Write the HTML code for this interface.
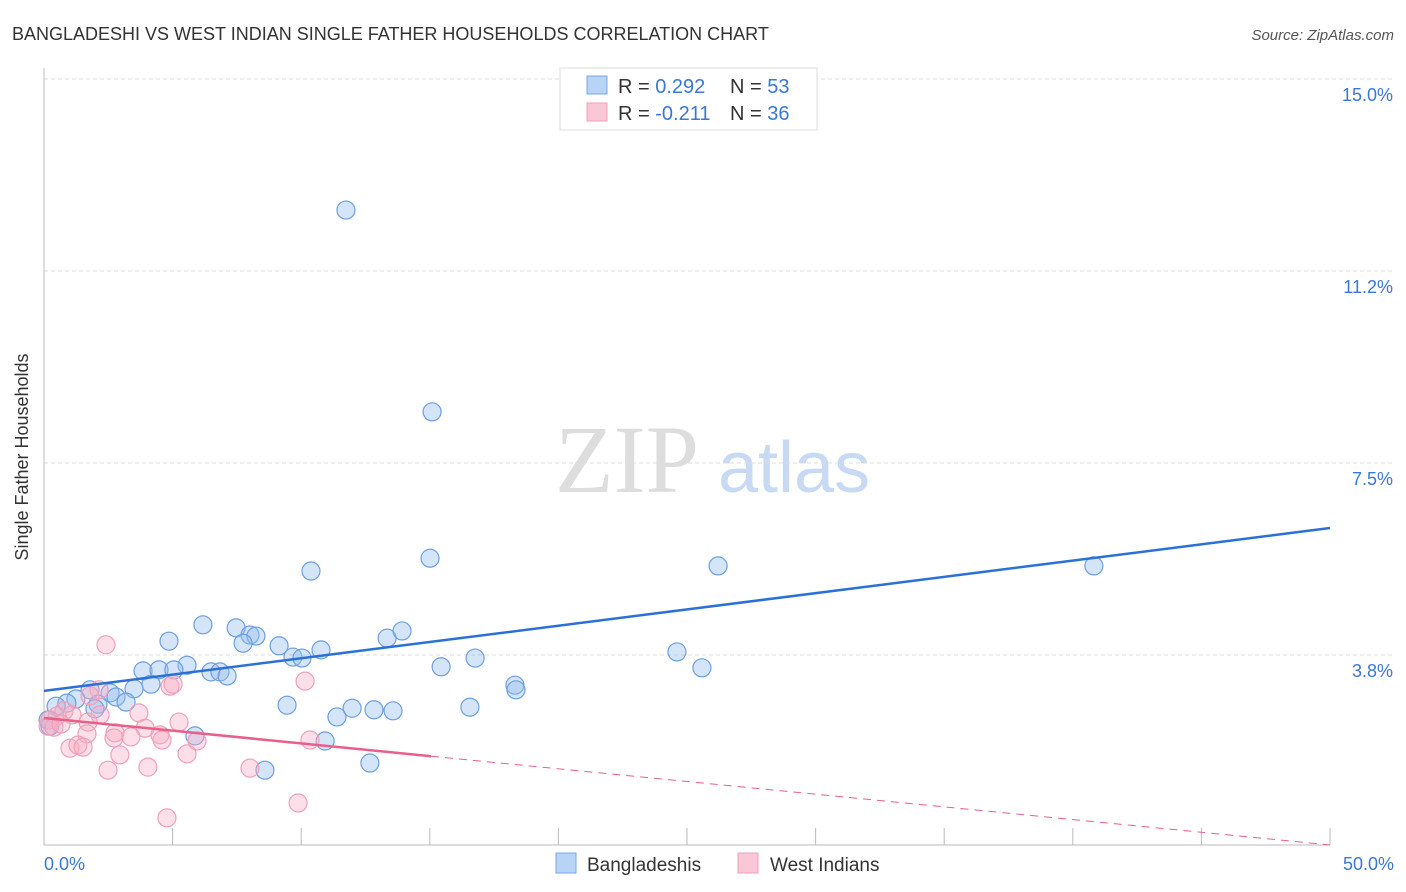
<!DOCTYPE html>
<html><head><meta charset="utf-8"><style>
body{margin:0;background:#fff;font-family:"Liberation Sans",sans-serif;}
svg{display:block}
</style></head><body>
<svg width="1406" height="892" id="chart">
<text x="12" y="40" font-size="18" fill="#333">BANGLADESHI VS WEST INDIAN SINGLE FATHER HOUSEHOLDS CORRELATION CHART</text>
<text x="1394" y="40" font-size="15" fill="#555" font-style="italic" text-anchor="end">Source: ZipAtlas.com</text>
<text x="555" y="492" font-size="96" font-family="Liberation Serif" fill="#ddd">ZIP</text>
<text x="718" y="492" font-size="72" fill="#c8daf3">atlas</text>
<g id="grid"></g>
<line x1="44" y1="68" x2="44" y2="845" stroke="#bbb"/>
<line x1="44" y1="845" x2="1330" y2="845" stroke="#bbb"/>
<text x="28" y="457" font-size="18" fill="#333" transform="rotate(-90 28 457)" text-anchor="middle">Single Father Households</text>
<text x="44" y="870" font-size="18" fill="#3a78d8">0.0%</text>
<text x="1394" y="870" font-size="18" fill="#3a78d8" text-anchor="end">50.0%</text>
<g id="points"></g>
<g>
<rect x="560" y="68" width="257" height="62" fill="#fff" stroke="#ddd"/>
<rect x="587" y="76" width="20" height="18" fill="#b8d3f5" stroke="#7aa8e6"/>
<rect x="587" y="103" width="20" height="18" fill="#f9c7d5" stroke="#f0a0b8"/>
<text x="618" y="93" font-size="20" fill="#333">R = <tspan fill="#3a78d8">0.292</tspan><tspan x="730">N = </tspan><tspan fill="#3a78d8">53</tspan></text>
<text x="618" y="120" font-size="20" fill="#333">R = <tspan fill="#3a78d8">-0.211</tspan><tspan x="730">N = </tspan><tspan fill="#3a78d8">36</tspan></text>
</g>
<g>
<rect x="556" y="853" width="20" height="20" fill="#b8d3f5" stroke="#7aa8e6"/>
<text x="587" y="871" font-size="19" fill="#333">Bangladeshis</text>
<rect x="738" y="853" width="20" height="20" fill="#f9c7d5" stroke="#f0a0b8"/>
<text x="770" y="871" font-size="19" fill="#333">West Indians</text>
</g>
</svg>
<script>
const yTicks=[3.75,7.5,11.25,15];
const yTickLabels=["3.8%","7.5%","11.2%","15.0%"];
const xTicks=[0,5,10,15,20,25,30,35,40,45,50];
const blueX=[11.74,15.09,15.01,10.38,26.21,40.82,6.18,7.47,8.01,8.24,4.86,7.74,9.14,10.77,13.34,13.92,9.68,10.03,16.76,24.61,15.44,25.58,5.56,3.85,4.47,5.05,6.49,6.84,7.12,4.16,3.50,1.79,2.57,2.80,3.19,1.24,0.89,0.47,2.10,1.98,9.45,11.98,12.83,13.57,11.39,16.56,18.31,18.35,5.87,10.93,12.67,8.59,0.16,0.23];
const blueY=[12.44,8.50,5.64,5.39,5.49,5.49,4.34,4.28,4.14,4.12,4.02,3.98,3.93,3.85,4.08,4.22,3.71,3.69,3.69,3.81,3.52,3.50,3.55,3.44,3.46,3.46,3.42,3.42,3.34,3.18,3.09,3.07,3.01,2.93,2.83,2.89,2.81,2.75,2.79,2.70,2.77,2.71,2.68,2.66,2.54,2.73,3.16,3.07,2.17,2.07,1.64,1.50,2.48,2.36];
const pinkX=[2.41,4.90,5.02,10.15,2.14,1.79,0.78,0.51,1.09,0.23,0.16,0.39,0.66,2.18,1.71,3.69,5.25,3.93,2.76,1.67,2.72,3.38,4.51,4.59,5.95,10.34,1.01,1.32,1.52,2.95,5.56,2.49,4.04,8.01,9.88,4.78];
const pinkY=[3.95,3.14,3.18,3.24,3.07,2.95,2.66,2.56,2.58,2.48,2.36,2.34,2.40,2.58,2.44,2.62,2.44,2.32,2.23,2.21,2.13,2.15,2.19,2.09,2.07,2.09,1.93,1.99,1.95,1.80,1.82,1.50,1.56,1.54,0.86,0.57];
const blueTrend=[3.05,6.23];
const pinkTrend=[2.52,0.04];
const pinkSolidEnd=15.05;
const NS="http://www.w3.org/2000/svg";
const xs=v=>44+v*25.72, ys=v=>847-v*51.2;
function mk(tag,attrs,parent){const e=document.createElementNS(NS,tag);for(const k in attrs)e.setAttribute(k,attrs[k]);parent.appendChild(e);return e;}
const grid=document.getElementById('grid');
yTicks.forEach((t,i)=>{
 const l=mk('line',{x1:44,x2:1394,y1:ys(t),y2:ys(t),stroke:'#ddd','stroke-dasharray':'4,3'},grid);
 
 
 const tx=mk('text',{x:1393,y:ys(t)+22,'font-size':18,fill:'#3a78d8','text-anchor':'end'},grid);
 tx.textContent=yTickLabels[i];
 
 
});
xTicks.forEach(t=>{
 const l=mk('line',{x1:xs(t),x2:xs(t),y1:828,y2:845,stroke:'#bbb'},grid);
 
 
});
const pts=document.getElementById('points');
blueX.forEach((x,i)=>{
 const c=mk('circle',{cx:xs(x),cy:ys(blueY[i]),r:9,fill:'rgba(150,190,240,0.4)',stroke:'#6d9fe0','stroke-width':1.2},pts);
 
 
});
pinkX.forEach((x,i)=>{
 const c=mk('circle',{cx:xs(x),cy:ys(pinkY[i]),r:9,fill:'rgba(248,175,198,0.4)',stroke:'#f0a0b8','stroke-width':1.2},pts);
 
 
});
const bl=mk('line',{x1:xs(0),y1:ys(blueTrend[0]),x2:xs(50),y2:ys(blueTrend[1]),stroke:'#2a70d8','stroke-width':2.5},pts);


const pAt=x=>pinkTrend[0]+(pinkTrend[1]-pinkTrend[0])*x/50;
const pl=mk('line',{x1:xs(0),y1:ys(pinkTrend[0]),x2:xs(pinkSolidEnd),y2:ys(pAt(pinkSolidEnd)),stroke:'#e8608a','stroke-width':2.5},pts);


const pd=mk('line',{x1:xs(pinkSolidEnd),y1:ys(pAt(pinkSolidEnd)),x2:xs(50),y2:ys(pinkTrend[1]),stroke:'#e8608a','stroke-width':1,'stroke-dasharray':'8,6'},pts);


</script>
</body></html>
